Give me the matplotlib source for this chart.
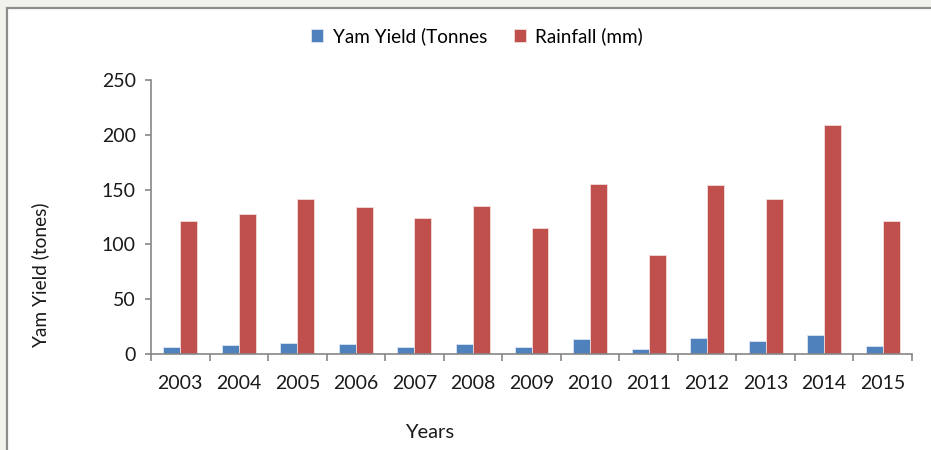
import numpy as np
import matplotlib.pyplot as plt
from matplotlib.patches import Rectangle
from matplotlib.ticker import FixedLocator

years = ["2003", "2004", "2005", "2006", "2007", "2008", "2009",
         "2010", "2011", "2012", "2013", "2014", "2015"]
yam_yield = [6.7, 8.5, 10.3, 9.4, 6.7, 9.4, 6.0, 13.4, 4.9, 14.3, 11.6, 17.0, 7.0]
rainfall = [121, 128, 141, 134, 124, 135, 115, 155, 90, 154, 141, 208.5, 121]

BLUE = "#4F81BD"
RED = "#C0504D"
AXIS_GRAY = "#868686"

plt.rcParams["font.family"] = ["Lato", "DejaVu Sans"]

fig = plt.figure(figsize=(9.31, 4.5), dpi=100)
fig.patch.set_facecolor("#F2F2EC")
# white chart frame with grey border (right/bottom edges run off the image)
fig.patches.append(Rectangle((7 / 931, -0.05), 1.1, (450 - 8) / 450 + 0.05,
                             transform=fig.transFigure, facecolor="white",
                             edgecolor="#8C8C8C", linewidth=1.6, zorder=-10))

ax = fig.add_axes([151 / 931, 96 / 450, (912 - 151) / 931, (354 - 80) / 450])
ax.set_zorder(2)
ax.patch.set_alpha(0)

x = np.arange(len(years))
w = 0.29
ax.bar(x - w / 2, yam_yield, w, color=BLUE, edgecolor="#DCE6F2", linewidth=0.6,
       label="Yam Yield (Tonnes")
ax.bar(x + w / 2, rainfall, w, color=RED, edgecolor="#F2DCDB", linewidth=0.6,
       label="Rainfall (mm)")

ax.set_xlim(-0.5, len(years) - 0.5)
ax.set_ylim(0, 250)
ax.set_yticks([0, 50, 100, 150, 200, 250])
ax.set_xticks(x)
ax.set_xticklabels(years)
ax.xaxis.set_minor_locator(FixedLocator(np.arange(-0.5, len(years), 1.0)))

for s in ["top", "right"]:
    ax.spines[s].set_visible(False)
for s in ["left", "bottom"]:
    ax.spines[s].set_color(AXIS_GRAY)
    ax.spines[s].set_linewidth(1.2)

ax.tick_params(axis="x", which="major", length=0, pad=15, labelsize=14, colors="#1a1a1a")
ax.tick_params(axis="x", which="minor", length=5, width=1.2, color=AXIS_GRAY)
ax.tick_params(axis="y", length=4, width=1.2, color=AXIS_GRAY, pad=7,
               labelsize=14, labelcolor="#1a1a1a")

fig.text(40 / 931, 1 - 275 / 450, "Yam Yield (tones)", rotation=90,
         ha="center", va="center", fontsize=13.8, color="#1a1a1a")
fig.text(430 / 931, 1 - 433 / 450, "Years", ha="center", va="center",
         fontsize=14.5, color="#1a1a1a")

fig.legend(loc="center", bbox_to_anchor=(477 / 931, 1 - 36 / 450), ncol=2,
           frameon=False, fontsize=13.6, handlelength=0.65, handleheight=0.65,
           handletextpad=0.5, columnspacing=1.4)

fig.savefig("out.png", dpi=100, facecolor=fig.get_facecolor())
